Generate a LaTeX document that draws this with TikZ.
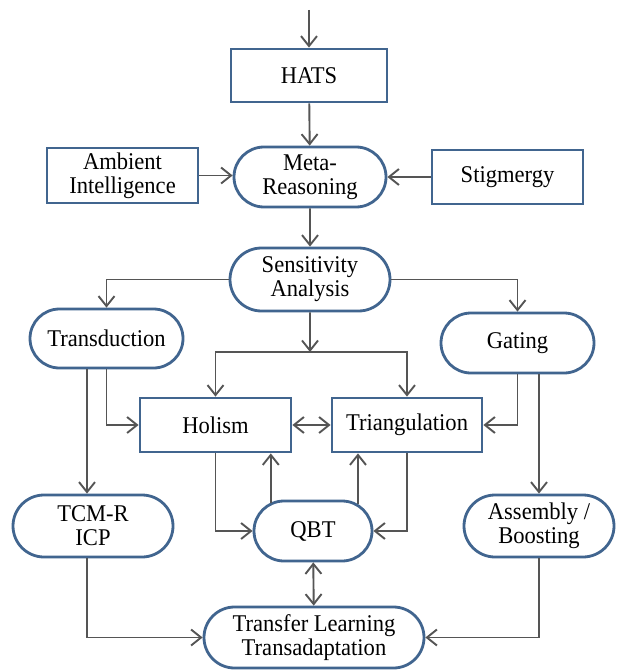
\documentclass[tikz,border=0pt]{standalone}
\usepackage{fontspec}
\setmainfont{Liberation Serif}[FakeStretch=0.94]
\usepackage{xcolor}
\usetikzlibrary{arrows.meta,positioning,shapes.misc}
\definecolor{boxblue}{HTML}{41658F}
\definecolor{linegray}{HTML}{555555}

\begin{document}
\begin{tikzpicture}[x=1pt,y=-1pt, box/.style={draw=boxblue,line width=2.8pt,fill=white,align=center,minimum height=54pt,inner sep=2pt,font=\fontsize{24}{24}\selectfont}, pill/.style={box,rounded rectangle,minimum height=61pt}, link/.style={draw=linegray,line width=1.9pt}, >={Straight Barb[length=10pt,width=16pt]}]
\fill[white] (0,0) rectangle (618,671);
\useasboundingbox (0,0) rectangle (618,671);
\node[box,minimum width=156pt,minimum height=53pt] (hats) at (309,75.5) {HATS};
\node[pill,minimum width=156pt,minimum height=60pt] (meta) at (310,177) {Meta-\\Reasoning};
\node[box,minimum width=151pt,minimum height=55pt] (ambient) at (122.5,175.5) {Ambient\\Intelligence};
\node[box,minimum width=151pt] (stig) at (507.5,177) {Stigmergy};
\node[pill,minimum width=164pt,minimum height=63pt] (sens) at (310,279.5) {Sensitivity\\Analysis};
\node[pill,minimum width=157pt,minimum height=59pt] (trans) at (106.5,338.5) {Transduction};
\node[pill,minimum width=157pt,minimum height=60pt] (gating) at (517.5,343) {Gating};
\node[box,minimum width=151pt] (holism) at (215.5,425) {Holism};
\node[box,minimum width=150pt] (tri) at (407,425) {Triangulation};
\node[pill,minimum width=164pt,minimum height=62pt] (tcm) at (93,526) {TCM-R\\ICP};
\node[pill,minimum width=122pt,minimum height=60pt] (qbt) at (313,531) {QBT};
\node[pill,minimum width=154pt,minimum height=62pt] (assembly) at (539,526) {Assembly /\\Boosting};
\node[pill,minimum width=224pt,minimum height=61pt] (transfer) at (314,637.5) {Transfer Learning\\Transadaptation};
\coordinate (start) at (309,10);
\coordinate (split) at (310,352);
\draw[link,->] (start)--(hats);\draw[link,->] (hats)--(meta);
\draw[link,->] (ambient.east)--(ambient.east -| meta.west);\draw[link,->] (stig.west)--(stig.west -| meta.east);
\draw[link,->] (meta)--(sens);
\draw[link,->] (sens.west) -| (trans.north);\draw[link,->] (sens.east) -| (gating.north);
\draw[link,->] (sens)--(split);
\draw[link,->] (split) -| (holism.north);\draw[link,->] (split) -| (tri.north);
\draw[link,<->] (holism)--(tri);
\draw[link,->] (trans.south) |- (holism.west);
\draw[link,->] ([xshift=-6pt]tcm.north |- trans.south)--([xshift=-6pt]tcm.north);
\draw[link,->] ([xshift=-6pt]tcm.south) |- (transfer.west);
\draw[link,->] (gating.south) |- (tri.east);
\draw[link,->] (gating.south -| assembly.north)--(assembly.north);
\draw[link,->] (holism.south) |- (qbt.west);\draw[link,->] (tri.south) |- (qbt.east);
\draw[link,->] (qbt.146)--(qbt.146 |- holism.south);\draw[link,->] (qbt.31)--(qbt.31 |- tri.south);
\draw[link,<->] (qbt)--(transfer);
\draw[link,->] (assembly.south) |- (transfer.east);
\end{tikzpicture}
\end{document}
